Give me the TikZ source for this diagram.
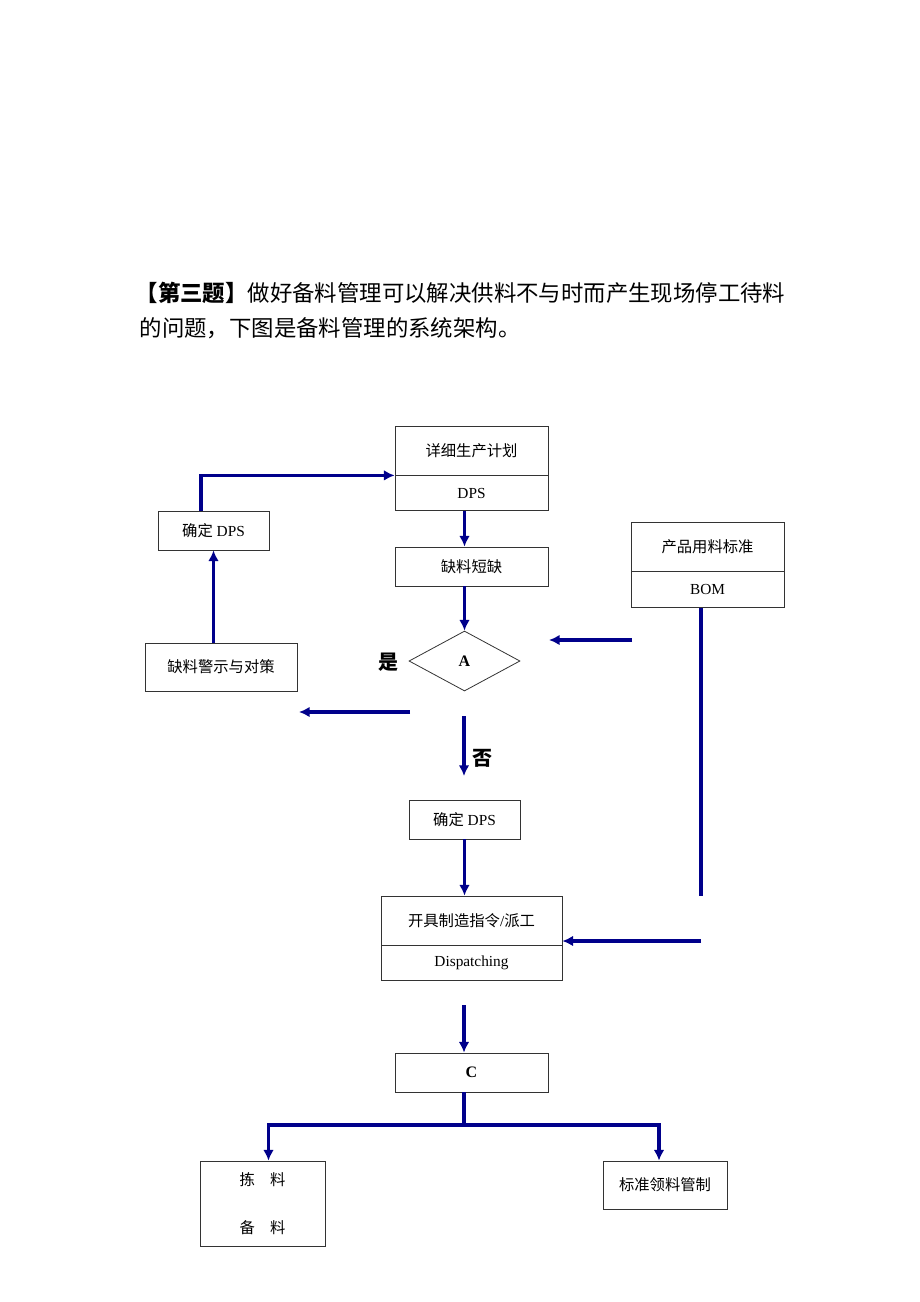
\documentclass[tikz,border=0pt]{standalone}
\usepackage{fontspec}
\setmainfont{Liberation Serif}
\newfontfamily\cjk{Noto Sans CJK SC}
\usetikzlibrary{arrows.meta,shapes.geometric,positioning}
\definecolor{flowblue}{RGB}{0,0,139}

\begin{document}
\begin{tikzpicture}[x=0.75pt, y=-0.75pt,
    box/.style={draw=black!80, line width=0.6pt, inner sep=0pt, align=center,
                font=\fontsize{11.5}{14}\selectfont},
    wh/.style 2 args={minimum width=#1*0.75pt, minimum height=#2*0.75pt},
    link/.style={draw=flowblue, line width=2.4pt},
    flow/.style={link, -{Latex[length=8pt,width=8pt]}},
    yn/.style={font=\cjk\bfseries\fontsize{15}{18}\selectfont}]

    \useasboundingbox (0,0) rectangle (920,1302);

    % question text
    \node [anchor=west, font=\cjk\fontsize{16.8}{20}\selectfont] (title1) at (131,293)
        {\textbf{【第三题】}做好备料管理可以解决供料不与时而产生现场停工待料};
    \node [anchor=west, font=\cjk\fontsize{16.8}{20}\selectfont] (title2) at (135,328)
        {的问题，下图是备料管理的系统架构。};

    % boxes
    \node [box, wh={153}{49}] (plan) at (471.5,450.5) {\cjk 详细生产计划};
    \node [box, wh={153}{35}, below=0pt of plan] (plandps) {DPS};
    \node [box, wh={111}{39}] (fix1) at (213.5,530.5) {{\cjk 确定} DPS};
    \node [box, wh={153}{39}] (short) at (471.5,566.5) {\cjk 缺料短缺};
    \node [box, wh={153}{49}] (bom) at (707.5,546.5) {\cjk 产品用料标准};
    \node [box, wh={153}{36}, below=0pt of bom] (bomdps) {BOM};
    \node [box, wh={152}{48}] (warn) at (221,667) {\cjk 缺料警示与对策};
    \node [box, diamond, aspect=1.85, wh={111}{60}, font=\bfseries\fontsize{12}{14}\selectfont]
        (choice) at (464.5,661) {A};
    \node [yn] (yes) at (388,662) {是};
    \node [yn] (no) at (482,758) {否};
    \node [box, wh={111}{39}] (fix2) at (464.5,819.5) {{\cjk 确定} DPS};
    \node [box, wh={181}{49}] (disp) at (471.5,920.5) {{\cjk 开具制造指令}/{\cjk 派工}};
    \node [box, wh={181}{35}, below=0pt of disp] (dispen) {Dispatching};
    \node [box, wh={153}{39}, font=\bfseries\fontsize{12}{14}\selectfont] (cbox) at (471.5,1072.5) {C};
    \node [box, wh={125}{85}] (pick) at (262.5,1203.5) {\cjk 拣\quad 料\\[22pt]\cjk 备\quad 料};
    \node [box, wh={124}{48}] (std) at (665,1185) {\cjk 标准领料管制};

    % loose ends
    \coordinate (bomarr) at (632,640);
    \coordinate (bomtip) at (549,640);
    \coordinate (yesarr) at (410,712);
    \coordinate (yestip) at (299,712);
    \coordinate (noarr) at (464,716);
    \coordinate (notip) at (464,776);
    \coordinate (bomdown) at (701,896);
    \coordinate (bomturn) at (701,941);
    \coordinate (dispout) at (464,1005);
    \coordinate (split) at (464,1125);

    % connectors
    \draw [flow] ([xshift=-9.4pt]fix1.north) |- (plandps.north west);
    \draw [flow] (fix1.south |- warn.north) -- (fix1.south);
    \draw [flow] (plandps.south -| choice) -- (short.north -| choice);
    \draw [flow] (short.south -| choice) -- (choice.north);
    \draw [flow] (bomarr) -- (bomtip);
    \draw [flow] (yesarr) -- (yestip);
    \draw [flow] (noarr) -- (notip);
    \draw [flow] (fix2) -- (fix2 |- disp.north);
    \draw [link] (bomdps.south -| bomdown) -- (bomdown);
    \draw [flow] (bomturn) -- (disp.east |- bomturn);
    \draw [flow] (dispout) -- (cbox.north -| dispout);
    \draw [link] (cbox.south -| split) -- (split);
    \draw [flow] (split) -| ([xshift=4.5pt]pick.north);
    \draw [flow] (split) -| ([xshift=-4.5pt]std.north);
\end{tikzpicture}
\end{document}
